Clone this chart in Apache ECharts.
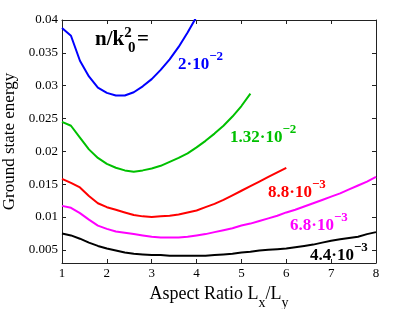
<!DOCTYPE html>
<html>
<head>
<meta charset="utf-8">
<script src="https://cdn.jsdelivr.net/npm/echarts@6/dist/echarts.min.js"></script>
<style>html,body{margin:0;padding:0;background:#fff;}#c{width:399px;height:309px;}</style>
</head>
<body>
<div id="c"></div>
<script>
const aspect = [1.0,1.2,1.4,1.6,1.8,2.0,2.2,2.4,2.6,2.8,3.0,3.2,3.4,3.6,3.8,4.0,4.2,4.4,4.6,4.8,5.0,5.2,5.4,5.6,5.8,6.0,6.2,6.4,6.6,6.8,7.0,7.2,7.4,7.6,7.8,8.0];
const eBlue    = [0.0388,0.0376,0.0338,0.0314,0.0297,0.0289,0.0285,0.0285,0.0290,0.0299,0.0310,0.0324,0.0340,0.0359,0.0381,0.0405];
const eGreen   = [0.0245,0.0239,0.0221,0.0203,0.0190,0.0181,0.0175,0.0171,0.0169,0.0171,0.0174,0.0178,0.0184,0.0190,0.0197,0.0206,0.0216,0.0227,0.0239,0.0253,0.0269,0.0288];
const eRed     = [0.0158,0.0152,0.0145,0.0132,0.0121,0.0115,0.0111,0.0107,0.0103,0.0101,0.0100,0.0101,0.0102,0.0104,0.0107,0.0110,0.0115,0.0120,0.0126,0.0133,0.0140,0.0147,0.0154,0.0161,0.0168,0.0175];
const eMagenta = [0.0117,0.0114,0.0106,0.0096,0.0087,0.0082,0.0078,0.0076,0.0074,0.0072,0.0070,0.0069,0.0069,0.0069,0.0070,0.0072,0.0074,0.0077,0.0080,0.0083,0.0087,0.0090,0.0094,0.0098,0.0102,0.0107,0.0111,0.0116,0.0121,0.0126,0.0131,0.0136,0.0142,0.0148,0.0154,0.0161];
const eBlack   = [0.0075,0.0072,0.0067,0.0061,0.0056,0.0052,0.0049,0.0046,0.0044,0.0043,0.0042,0.0042,0.0041,0.0041,0.0041,0.0041,0.0041,0.0042,0.0043,0.0044,0.0046,0.0047,0.0049,0.0050,0.0051,0.0052,0.0054,0.0056,0.0058,0.0061,0.0064,0.0066,0.0068,0.0070,0.0074,0.0077];
const yTicks = [0.005,0.01,0.015,0.02,0.025,0.03,0.035,0.04];
const seriesNames = ['2·10^-2','1.32·10^-2','8.8·10^-3','6.8·10^-3','4.4·10^-3'];

const FONT = 'Liberation Serif';
const pairs = arr => arr.map((v,i)=>[aspect[i], v]);

const chart = echarts.init(document.getElementById('c'), null, {renderer:'canvas'});

const axisLineStyle = {color:'#222', width:1};
const baseX = {
  type:'value', min:1, max:8, interval:1,
  axisLine:{show:true, onZero:false, lineStyle:axisLineStyle},
  axisTick:{show:true, inside:true, length:4, lineStyle:{color:'#222'}},
  splitLine:{show:false}
};
const baseY = {
  type:'value', min:0.003, max:0.04,
  axisLine:{show:true, onZero:false, lineStyle:axisLineStyle},
  axisTick:{show:true, inside:true, length:4, customValues:yTicks, lineStyle:{color:'#222'}},
  splitLine:{show:false}
};

const labelRich = (color) => ({
  b:{fontFamily:FONT, fontWeight:'bold', fontSize:17, fill:color, verticalAlign:'bottom'},
  s:{fontFamily:FONT, fontWeight:'bold', fontSize:13, fill:color, verticalAlign:'top', padding:[0,0,10,0]}
});
function supLabel(txt, color, left, top){
  const [base, exp] = txt.split('^');
  return {type:'text', left:left, top:top, silent:true,
    style:{text:'{b|'+base+'}{s|'+exp.replace('-','−')+'}', fill:color, rich:labelRich(color)}};
}

chart.setOption({
  animation:false,
  backgroundColor:'#fff',
  grid:{left:62, right:23, top:20, bottom:46, containLabel:false, outerBoundsMode:'none'},
  xAxis:[
    Object.assign({}, baseX, {position:'bottom',
      axisLabel:{show:true, fontFamily:FONT, fontSize:13, color:'#000', margin:4},
      name:'{t|Aspect Ratio L}{u|x}{t|/L}{u|y}', nameLocation:'middle', nameGap:8,
      nameTextStyle:{rich:{
        t:{fontFamily:FONT, fontSize:18, color:'#000', verticalAlign:'top'},
        u:{fontFamily:FONT, fontSize:14, color:'#000', verticalAlign:'bottom', padding:[11,0,0,0]}
      }}}),
    Object.assign({}, baseX, {position:'top', axisLabel:{show:false}})
  ],
  yAxis:[
    Object.assign({}, baseY, {position:'left',
      axisLabel:{show:true, fontFamily:FONT, fontSize:13, color:'#000', margin:4, customValues:yTicks,
        formatter: v => String(Number(v.toFixed(4)))},
      name:'Ground state energy', nameLocation:'middle', nameGap:33, nameRotate:90,
      nameTextStyle:{fontFamily:FONT, fontSize:17, color:'#000'}}),
    Object.assign({}, baseY, {position:'right', axisLabel:{show:false}})
  ],
  series:[
    {name:seriesNames[0], type:'line', data:pairs(eBlue), color:'#0000ff'},
    {name:seriesNames[1], type:'line', data:pairs(eGreen), color:'#00c000'},
    {name:seriesNames[2], type:'line', data:pairs(eRed), color:'#ff0000'},
    {name:seriesNames[3], type:'line', data:pairs(eMagenta), color:'#ff00ff'},
    {name:seriesNames[4], type:'line', data:pairs(eBlack), color:'#000000'}
  ].map(s => Object.assign(s, {showSymbol:false, symbol:'none', smooth:false, clip:true,
      lineStyle:{width:2, color:s.color}, xAxisIndex:0, yAxisIndex:0})),
  graphic:[
    {type:'text', left:95, top:26, silent:true,
      style:{text:'{b|n/k}{ss|2}{b| =}', fill:'#000', rich:{
        b:{fontFamily:FONT, fontWeight:'bold', fontSize:21, fill:'#000', verticalAlign:'middle'},
        ss:{fontFamily:FONT, fontWeight:'bold', fontSize:15, fill:'#000', verticalAlign:'middle', padding:[0,0,12,0]}
      }}},
    {type:'text', left:128, top:41, silent:true,
      style:{text:'0', fontFamily:FONT, fontWeight:'bold', fontSize:15, fill:'#000'}},
    supLabel(seriesNames[0], '#0000ff', 178, 50),
    supLabel(seriesNames[1], '#00c000', 230, 123),
    supLabel(seriesNames[2], '#ff0000', 268, 178),
    supLabel(seriesNames[3], '#ff00ff', 290, 211),
    supLabel(seriesNames[4], '#000000', 310, 241)
  ]
});
</script>
</body>
</html>
